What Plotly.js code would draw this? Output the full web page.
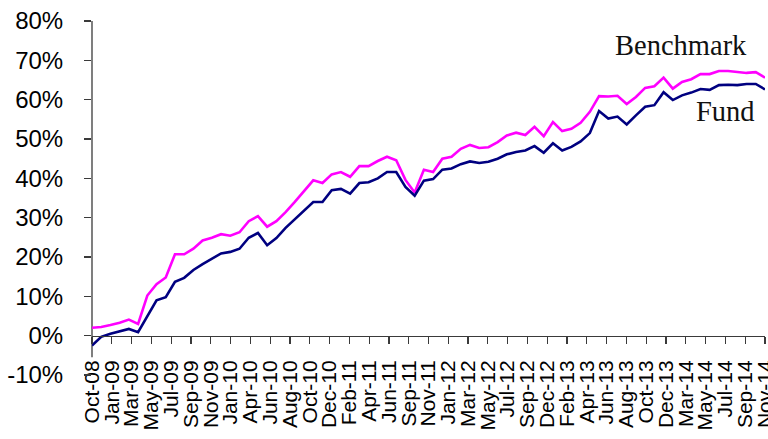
<!DOCTYPE html>
<html>
<head>
<meta charset="utf-8">
<script src="https://cdn.plot.ly/plotly-3.0.1.min.js"></script>
<style>
  html, body { margin: 0; padding: 0; background: #ffffff; }
  #chart { width: 768px; height: 439px; }
</style>
</head>
<body>
<div id="chart"></div>
<script>
// Monthly observations, Oct-08 .. Nov-14
const months = [
  "Oct-08","Nov-08","Dec-08","Jan-09","Feb-09","Mar-09","Apr-09","May-09","Jun-09","Jul-09","Aug-09","Sep-09",
  "Oct-09","Nov-09","Dec-09","Jan-10","Feb-10","Mar-10","Apr-10","May-10","Jun-10","Jul-10","Aug-10","Sep-10",
  "Oct-10","Nov-10","Dec-10","Jan-11","Feb-11","Mar-11","Apr-11","May-11","Jun-11","Jul-11","Aug-11","Sep-11",
  "Oct-11","Nov-11","Dec-11","Jan-12","Feb-12","Mar-12","Apr-12","May-12","Jun-12","Jul-12","Aug-12","Sep-12",
  "Oct-12","Nov-12","Dec-12","Jan-13","Feb-13","Mar-13","Apr-13","May-13","Jun-13","Jul-13","Aug-13","Sep-13",
  "Oct-13","Nov-13","Dec-13","Jan-14","Feb-14","Mar-14","Apr-14","May-14","Jun-14","Jul-14","Aug-14","Sep-14",
  "Oct-14","Nov-14"
];

// Cumulative return, %
const benchmark = [
  2.0, 2.2, 2.7, 3.3, 4.1, 3.0, 10.2, 13.1, 14.8, 20.7,
  20.7, 22.1, 24.2, 24.9, 25.8, 25.4, 26.3, 29.1, 30.4, 27.7,
  29.1, 31.4, 34.0, 36.7, 39.5, 38.8, 41.0, 41.6, 40.4, 43.1,
  43.1, 44.4, 45.5, 44.6, 39.6, 36.4, 42.2, 41.6, 45.0, 45.5,
  47.5, 48.5, 47.7, 47.9, 49.2, 50.9, 51.6, 51.0, 53.1, 50.7,
  54.3, 52.0, 52.6, 54.1, 56.9, 60.9, 60.8, 61.0, 58.9, 60.7,
  63.0, 63.4, 65.6, 62.8, 64.5, 65.2, 66.5, 66.5, 67.3, 67.3,
  67.0, 66.8, 67.0, 65.6
];
const fund = [
  -2.5, -0.3, 0.5, 1.1, 1.7, 0.9, 5.0, 9.0, 9.8, 13.7,
  14.7, 16.7, 18.2, 19.5, 20.9, 21.3, 22.1, 24.9, 26.1, 23.0,
  24.8, 27.4, 29.6, 31.6, 34.0, 34.0, 37.0, 37.3, 36.1, 38.8,
  39.0, 40.0, 41.6, 41.6, 37.8, 35.6, 39.4, 39.8, 42.2, 42.5,
  43.6, 44.3, 43.9, 44.2, 45.0, 46.1, 46.7, 47.1, 48.2, 46.5,
  48.9, 47.1, 48.0, 49.4, 51.5, 57.1, 55.2, 55.7, 53.7, 56.0,
  58.2, 58.6, 61.9, 59.9, 61.1, 61.8, 62.7, 62.5, 63.7, 63.8,
  63.7, 64.0, 64.0, 62.6
];

// Axis tick labels as drawn on the reference
const xTickLabels = [
  "Oct-08","Jan-09","Mar-09","May-09","Jul-09","Sep-09","Nov-09","Jan-10","Apr-10","Jun-10",
  "Aug-10","Oct-10","Dec-10","Feb-11","Apr-11","Jun-11","Sep-11","Nov-11","Jan-12","Mar-12",
  "May-12","Jul-12","Sep-12","Dec-12","Feb-13","Apr-13","Jun-13","Aug-13","Oct-13","Dec-13",
  "Mar-14","May-14","Jul-14","Sep-14","Nov-14"
];
const yTickValues = [-10, 0, 10, 20, 30, 40, 50, 60, 70, 80];
const seriesNames = ["Benchmark", "Fund"];

const xIdx = months.map((_, i) => i);
const lastIdx = months.length - 1;
const xTickVals = xTickLabels.map((_, k) => Math.min(lastIdx, k * lastIdx / (xTickLabels.length - 1)));

const traces = [
  { x: xIdx, y: benchmark, text: months, type: "scatter", mode: "lines", name: seriesNames[0],
    line: { color: "#ff00ff", width: 2.6 }, hovertemplate: "%{text}: %{y:.1f}%<extra>Benchmark</extra>" },
  { x: xIdx, y: fund, text: months, type: "scatter", mode: "lines", name: seriesNames[1],
    line: { color: "#000080", width: 2.6 }, hovertemplate: "%{text}: %{y:.1f}%<extra>Fund</extra>" }
];

const layout = {
  width: 768, height: 439,
  margin: { l: 92, r: 3, t: 21, b: 64, pad: 0 },
  paper_bgcolor: "#ffffff", plot_bgcolor: "#ffffff",
  showlegend: false,
  font: { family: "Liberation Sans, Arial, sans-serif", color: "#000000" },
  xaxis: {
    type: "linear", range: [0, lastIdx], anchor: "free", position: 10 / 90,
    showgrid: false, zeroline: false, showline: true, linecolor: "#3a3a3a", linewidth: 1.3,
    ticks: "outside", ticklen: 7, tickwidth: 1.2, tickcolor: "#3a3a3a",
    tickmode: "array", tickvals: xTickVals, ticktext: xTickLabels,
    tickangle: -90, tickfont: { size: 21, color: "#000000" },
    ticklabelstandoff: 8, ticklabeloverflow: "allow", automargin: false, fixedrange: true
  },
  yaxis: {
    range: [-10, 80], showgrid: false, zeroline: false,
    showline: false,
    ticks: "outside", ticklen: 7, tickwidth: 1.2, tickcolor: "#3a3a3a",
    tickmode: "array", tickvals: yTickValues, ticktext: yTickValues.map(v => v + "%"),
    tickfont: { size: 24, color: "#000000" }, ticklabelstandoff: 16,
    automargin: false, fixedrange: true
  },
  shapes: [
    { type: "line", xref: "paper", yref: "paper", x0: 0, x1: 0, y0: 0.05, y1: 1,
      line: { color: "#3a3a3a", width: 1.3 }, layer: "below" }
  ],
  annotations: [
    { text: seriesNames[0], xref: "paper", yref: "paper", x: 0.875, y: 0.932,
      xanchor: "center", yanchor: "middle", showarrow: false,
      font: { family: "Liberation Serif, Times New Roman, serif", size: 28.5, color: "#111111" } },
    { text: seriesNames[1], xref: "paper", yref: "paper", x: 0.9406, y: 0.743,
      xanchor: "center", yanchor: "middle", showarrow: false,
      font: { family: "Liberation Serif, Times New Roman, serif", size: 28.5, color: "#111111" } }
  ]
};

Plotly.newPlot("chart", traces, layout, { displayModeBar: false, staticPlot: true });
</script>
</body>
</html>
